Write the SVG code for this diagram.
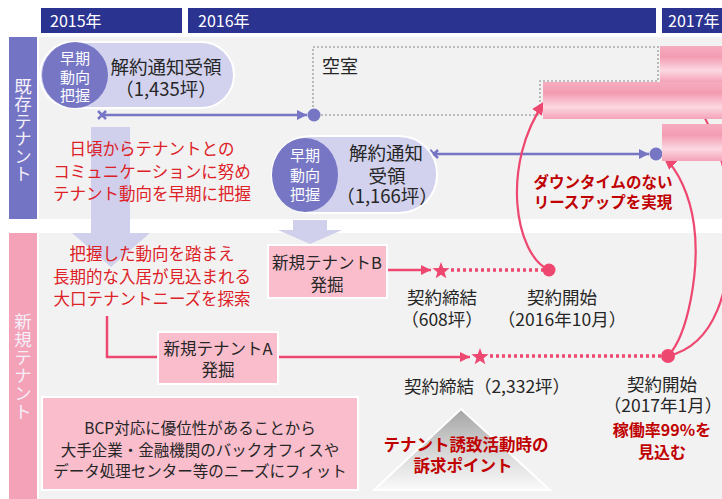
<svg xmlns="http://www.w3.org/2000/svg" xmlns:xlink="http://www.w3.org/1999/xlink" width="722" height="499" viewBox="0 0 722 499">
<defs>
  <linearGradient id="barGrad" x1="0" y1="0" x2="0" y2="1">
    <stop offset="0" stop-color="#F6ACBF"/>
    <stop offset="0.3" stop-color="#F39CB2"/>
    <stop offset="0.68" stop-color="#FCD8E2"/>
    <stop offset="1" stop-color="#F4A2B7"/>
  </linearGradient>
  <linearGradient id="triGrad" x1="0" y1="0" x2="0" y2="1">
    <stop offset="0" stop-color="#A4A4A4"/>
    <stop offset="0.55" stop-color="#D8D8D8"/>
    <stop offset="1" stop-color="#FAFAFA"/>
  </linearGradient>
  <marker id="arrPurple" viewBox="0 0 10 10" refX="10" refY="5" markerWidth="11" markerHeight="10" markerUnits="userSpaceOnUse" orient="auto">
    <path d="M0,0 L10,5 L0,10 z" fill="#7676C5"/>
  </marker>
  <marker id="arrPink" viewBox="0 0 10 10" refX="10" refY="5" markerWidth="10" markerHeight="10" markerUnits="userSpaceOnUse" orient="auto">
    <path d="M0,0 L10,5 L0,10 z" fill="#EE4770"/>
  </marker>
  <marker id="arrCurve" viewBox="0 0 12 10" refX="12" refY="5" markerWidth="14" markerHeight="12" markerUnits="userSpaceOnUse" orient="auto">
    <path d="M0,0 L12,5 L0,10 z" fill="#EE4770"/>
  </marker>
  <path id="star" d="M0,-9 L2.23,-3.07 L8.56,-2.78 L3.61,1.17 L5.29,7.28 L0,3.8 L-5.29,7.28 L-3.61,1.17 L-8.56,-2.78 L-2.23,-3.07 Z" fill="#EE4770"/>
</defs>
<style>
  text { font-family: "Noto Sans CJK JP", "Noto Sans", sans-serif; }
  .yr { fill: #FFFFFF; font-size: 16px; }
  .lane { fill: #F4F0FA; font-size: 17.5px; text-anchor: middle; writing-mode: vertical-rl; text-orientation: upright; }
  .blk { fill: #262626; font-size: 18px; text-anchor: middle; }
  .blk2 { fill: #262626; font-size: 17px; text-anchor: middle; }
  .wht { fill: #FFFFFF; font-size: 15px; text-anchor: middle; }
  .red { fill: #DD2127; font-size: 16.5px; text-anchor: middle; }
  .bred { fill: #C00000; font-size: 16px; font-weight: bold; text-anchor: middle; }
  .pinkbox { fill: #F9BDCC; stroke: #FFFFFF; stroke-width: 2; }
  .pill { fill: #D2D2EE; stroke: #FFFFFF; stroke-width: 2; }
  .circ { fill: #7676C5; }
  .bar { fill: url(#barGrad); }
  .pline { stroke: #EE4770; stroke-width: 2.5; fill: none; }
  .pdot { stroke: #EE4770; stroke-width: 3.5; stroke-dasharray: 3 3; fill: none; }
  .uline { stroke: #7676C5; stroke-width: 2.5; fill: none; }
  .curve { stroke: #EE4770; stroke-width: 2.2; fill: none; }
  .blockarrow { fill: #D0D0EC; }
</style>
<rect x="0" y="0" width="722" height="499" fill="#FFFFFF"/>

<g id="lanes">
  <rect x="41" y="8" width="141" height="25" fill="#2B3391"/>
  <rect x="188" y="8" width="468" height="25" fill="#2B3391"/>
  <rect x="662" y="8" width="60" height="25" fill="#2B3391"/>
  <text class="yr" x="50" y="27">2015年</text>
  <text class="yr" x="198" y="27">2016年</text>
  <text class="yr" x="668" y="27">2017年</text>
  <rect x="9" y="37" width="28" height="182" fill="#7474C4"/>
  <rect x="39" y="37" width="683" height="182" fill="#F2F2F2"/>
  <rect x="9" y="233" width="28" height="266" fill="#F4A2B8"/>
  <rect x="39" y="233" width="683" height="266" fill="#F2F2F2"/>
  <text class="lane" x="23" y="130">既存テナント</text>
  <text class="lane" x="23" y="367" style="letter-spacing:0.5px">新規テナント</text>
</g>

<g id="connectors">
  <path class="blockarrow" d="M91,127 H130 V233 H150 L111,267 L72,233 H91 Z"/>
  <path class="blockarrow" d="M293,220 H327 V230 H342 L310,244 L278,230 H293 Z"/>
  <path d="M313,115 V47 H658 V81 H540 V115 Z" fill="none" stroke="#ABABAB" stroke-width="1.6" stroke-dasharray="2 2"/>
  <path class="uline" d="M98,111 L106,119 M106,111 L98,119" stroke-width="3"/>
  <line class="uline" x1="102" y1="115" x2="307" y2="115" marker-end="url(#arrPurple)"/>
  <circle cx="314" cy="115" r="6.5" fill="#7676C5"/>
  <path class="uline" d="M430,150 L438,158 M438,150 L430,158" stroke-width="3"/>
  <line class="uline" x1="434" y1="154" x2="649" y2="154" marker-end="url(#arrPurple)"/>
  <circle cx="656" cy="154" r="6.5" fill="#7676C5"/>
  <line class="pline" x1="388" y1="270" x2="431" y2="270" marker-end="url(#arrPink)"/>
  <line class="pdot" x1="451" y1="270" x2="543" y2="270"/>
  <use xlink:href="#star" x="441" y="271"/>
  <circle cx="549" cy="270" r="6.5" fill="#EE4770"/>
  <path class="pline" d="M107,316 V357 H158"/>
  <line class="pline" x1="279" y1="357" x2="470" y2="357" marker-end="url(#arrPink)"/>
  <line class="pdot" x1="490" y1="356" x2="661" y2="356"/>
  <use xlink:href="#star" x="480" y="357"/>
  <circle cx="668" cy="356" r="7" fill="#EE4770"/>
  <path class="curve" d="M549,270 C515,255 500,165 545,101" marker-end="url(#arrCurve)"/>
  <path class="curve" d="M668,356 C715,345 732,290 730,220 C728,150 700,95 662,64" marker-end="url(#arrCurve)"/>
  <path class="curve" d="M668,356 C688,335 700,270 694,225 C690,195 678,170 663,156" marker-end="url(#arrCurve)"/>
</g>

<g id="bars">
  <rect class="bar" x="660" y="46" width="62" height="36"/>
  <rect class="bar" x="543" y="82" width="179" height="37"/>
  <rect class="bar" x="662" y="124" width="60" height="37"/>
</g>

<g id="vacancy">
  <text class="blk" x="322" y="72.5" style="text-anchor:start">空室</text>
</g>

<g id="pill1">
  <rect class="pill" x="40" y="42" width="194" height="66" rx="33" ry="33"/>
  <circle class="circ" cx="75" cy="75" r="33"/>
  <text class="wht"><tspan x="75" y="64">早期</tspan><tspan x="75" y="82.5">動向</tspan><tspan x="75" y="101">把握</tspan></text>
  <text class="blk" style="font-size:18.5px"><tspan x="166" y="74">解約通知受領</tspan><tspan x="166" y="95.5">（1,435坪）</tspan></text>
</g>

<g id="pill2">
  <rect class="pill" x="272" y="136" width="165" height="77" rx="38" ry="38"/>
  <ellipse class="circ" cx="305" cy="175" rx="33" ry="37"/>
  <text class="wht"><tspan x="305" y="161">早期</tspan><tspan x="305" y="180.5">動向</tspan><tspan x="305" y="200">把握</tspan></text>
  <text class="blk" style="font-size:18.5px"><tspan x="386" y="160">解約通知</tspan><tspan x="387" y="182.5">受領</tspan><tspan x="387" y="203">（1,166坪）</tspan></text>
</g>

<g id="note-upper">
  <text class="red"><tspan x="152" y="155">日頃からテナントとの</tspan><tspan x="152" y="177.5">コミュニケーションに努め</tspan><tspan x="152" y="200">テナント動向を早期に把握</tspan></text>
</g>

<g id="note-downtime">
  <text class="bred" style="font-size:15.5px"><tspan x="603" y="188">ダウンタイムのない</tspan><tspan x="603" y="207.5">リースアップを実現</tspan></text>
</g>

<g id="note-lower">
  <text class="red"><tspan x="152" y="260">把握した動向を踏まえ</tspan><tspan x="152" y="282.5">長期的な入居が見込まれる</tspan><tspan x="152" y="305">大口テナントニーズを探索</tspan></text>
</g>

<g id="tenantB">
  <rect class="pinkbox" x="268" y="245" width="119" height="53"/>
  <text class="blk2" style="font-size:16.5px"><tspan x="327" y="268.5">新規テナントB</tspan><tspan x="327" y="290.5">発掘</tspan></text>
</g>

<g id="tenantA">
  <rect class="pinkbox" x="158" y="332" width="120" height="52"/>
  <text class="blk2" style="font-size:16.5px"><tspan x="218" y="354.5">新規テナントA</tspan><tspan x="218" y="375.5">発掘</tspan></text>
</g>

<g id="labelB-sign">
  <text class="blk2" style="font-size:17.5px"><tspan x="442" y="304">契約締結</tspan><tspan x="442" y="326">（608坪）</tspan></text>
</g>
<g id="labelB-start">
  <text class="blk2" style="font-size:17.5px"><tspan x="562" y="304">契約開始</tspan><tspan x="562" y="326">（2016年10月）</tspan></text>
</g>
<g id="labelA-sign">
  <text class="blk2" style="font-size:17.5px" x="487" y="393">契約締結（2,332坪）</text>
</g>
<g id="labelA-start">
  <text class="blk2" style="font-size:17.5px"><tspan x="662" y="391">契約開始</tspan><tspan x="663" y="412">（2017年1月）</tspan></text>
  <text class="bred"><tspan x="662" y="435.5">稼働率99%を</tspan><tspan x="662" y="457.5">見込む</tspan></text>
</g>

<g id="bcp">
  <rect class="pinkbox" x="42" y="397" width="316" height="93"/>
  <text class="blk2" style="font-size:15.5px"><tspan x="200" y="433.5">BCP対応に優位性があることから</tspan><tspan x="200" y="455.5">大手企業・金融機関のバックオフィスや</tspan><tspan x="200" y="476.5">データ処理センター等のニーズにフィット</tspan></text>
</g>

<g id="appeal">
  <polygon points="461,409 550,490 374,490" fill="url(#triGrad)" stroke="#FFFFFF" stroke-width="2"/>
  <text class="bred" style="font-size:16.5px"><tspan x="466" y="450.5">テナント誘致活動時の</tspan><tspan x="463" y="471.5">訴求ポイント</tspan></text>
</g>
</svg>
